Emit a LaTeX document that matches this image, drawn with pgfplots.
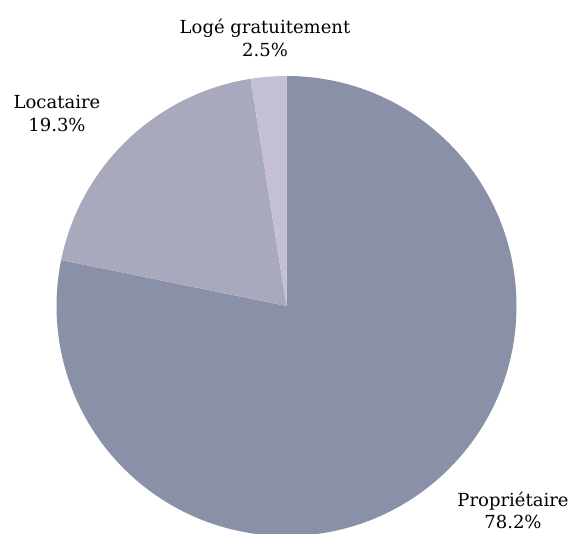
\documentclass[border=0pt]{standalone}
\usepackage{pgfplots}
\usepackage{pgfplotstable}
\pgfplotsset{compat=1.18}
\usepackage{fontspec}
\setmainfont{DejaVu Serif}
\definecolor{propcol}{HTML}{8990A8}
\definecolor{loccol}{HTML}{A9A9BD}
\definecolor{logcol}{HTML}{C4BFD2}
\pgfplotstableread{
label value
Propriétaire 78.2
Locataire 19.3
{Logé gratuitement} 2.5
}\piedata
\pgfplotstablegetelem{0}{value}\of\piedata
\pgfmathsetmacro\aA{90-3.6*\pgfplotsretval}
\pgfplotstablegetelem{1}{value}\of\piedata
\pgfmathsetmacro\aB{\aA-3.6*\pgfplotsretval}
\pgfplotstablegetelem{2}{value}\of\piedata
\pgfmathsetmacro\aC{\aB-3.6*\pgfplotsretval}
\begin{document}
\begin{tikzpicture}
\begin{axis}[
  x=1pt, y=1pt,
  xmin=0, xmax=571, ymin=0, ymax=534,
  hide axis, clip=true,
  scale only axis,
]
\path (axis cs:0,0) rectangle (axis cs:571,534);
\fill[propcol] (axis cs:286.5,228) -- ++(90:230pt) arc[start angle=90, end angle=\aA, radius=230pt] -- cycle;
\fill[loccol] (axis cs:286.5,228) -- ++(\aA:230pt) arc[start angle=\aA, end angle=\aB, radius=230pt] -- cycle;
\fill[logcol] (axis cs:286.5,228) -- ++(\aB:230pt) arc[start angle=\aB, end angle=\aC, radius=230pt] -- cycle;
\node[align=center, font=\fontsize{18}{23}\selectfont] at (axis cs:265,496) {Logé gratuitement\\2.5\%};
\node[align=center, font=\fontsize{18}{23}\selectfont] at (axis cs:57,420) {Locataire\\19.3\%};
\node[align=center, font=\fontsize{18}{22}\selectfont] at (axis cs:513,24) {Propriétaire\\78.2\%};
\end{axis}
\end{tikzpicture}
\end{document}
